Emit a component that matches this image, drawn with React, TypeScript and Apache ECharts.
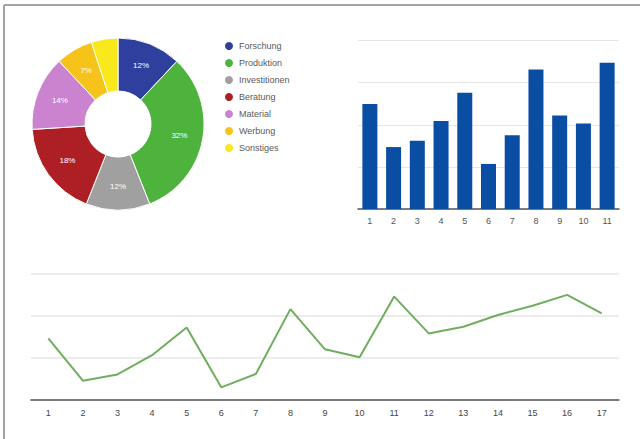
import React, { useEffect, useRef } from "react";
import * as echarts from "echarts";

const pieNames = ["Forschung", "Produktion", "Investitionen", "Beratung", "Material", "Werbung", "Sonstiges"];
const pieValues = [12, 32, 12, 18, 14, 7, 5];
const pieColors = ["#2e3f9e", "#4db33d", "#a0a0a0", "#ad1f25", "#cb82cf", "#f5c31a", "#f9e81c"];

const barCategories = ["1", "2", "3", "4", "5", "6", "7", "8", "9", "10", "11"];
const barValues = [2.49, 1.47, 1.62, 2.09, 2.76, 1.07, 1.75, 3.31, 2.22, 2.03, 3.47];

const lineCategories = ["1", "2", "3", "4", "5", "6", "7", "8", "9", "10", "11", "12", "13", "14", "15", "16", "17"];
const lineValues = [1.46, 0.45, 0.6, 1.06, 1.72, 0.29, 0.61, 2.16, 1.2, 1.01, 2.46, 1.58, 1.74, 2.02, 2.24, 2.5, 2.06];

const FONT = "'Liberation Sans', Arial, sans-serif";

export default function App() {
  const ref = useRef<HTMLDivElement>(null);
  useEffect(() => {
    if (!ref.current) return;
    const chart = echarts.init(ref.current, undefined, { renderer: "svg" });
    chart.setOption({
      animation: false,
      backgroundColor: "#ffffff",
      textStyle: { fontFamily: FONT },
      graphic: [
        { type: "line", shape: { x1: 4, y1: 5, x2: 640, y2: 5 }, style: { stroke: "#a3a3a3", lineWidth: 2 } },
        { type: "line", shape: { x1: 4, y1: 5, x2: 4, y2: 439 }, style: { stroke: "#a3a3a3", lineWidth: 2 } },
      ],
      legend: {
        orient: "vertical",
        left: 218,
        top: 35,
        icon: "circle",
        itemWidth: 10,
        itemHeight: 10,
        itemGap: 5,
        data: pieNames,
        textStyle: { fontSize: 9, color: "#5a5a5a", fontFamily: FONT, lineHeight: 12 },
      },
      grid: [
        { left: 358, right: 21, top: 40.5, bottom: 230 },
        { left: 31, right: 21, top: 274, bottom: 39.5 },
      ],
      xAxis: [
        {
          type: "category",
          gridIndex: 0,
          data: barCategories,
          axisLine: { lineStyle: { color: "#555555", width: 1.5 } },
          axisTick: { show: false },
          axisLabel: { fontSize: 9, color: "#555555", margin: 7 },
        },
        {
          type: "category",
          gridIndex: 1,
          data: lineCategories,
          axisLine: { lineStyle: { color: "#555555", width: 1.5 } },
          axisTick: { show: false },
          axisLabel: { fontSize: 9, color: "#444444", margin: 9 },
        },
      ],
      yAxis: [
        {
          type: "value",
          gridIndex: 0,
          min: 0,
          max: 4,
          interval: 1,
          axisLabel: { show: false },
          axisLine: { show: false },
          axisTick: { show: false },
          splitLine: { lineStyle: { color: "#e6e6e6", width: 1 } },
        },
        {
          type: "value",
          gridIndex: 1,
          min: 0,
          max: 3,
          interval: 1,
          axisLabel: { show: false },
          axisLine: { show: false },
          axisTick: { show: false },
          splitLine: { lineStyle: { color: "#e6e6e6", width: 1.5 } },
        },
      ],
      series: [
        {
          type: "pie",
          center: [118, 124],
          radius: [33, 86],
          startAngle: 90,
          clockwise: true,
          avoidLabelOverlap: false,
          itemStyle: { borderColor: "#ffffff", borderWidth: 1 },
          label: {
            show: true,
            position: "inside",
            color: "#ffffff",
            fontSize: 8,
            formatter: (p: any) => (p.value >= 7 ? p.value + "%" : ""),
          },
          labelLine: { show: false },
          data: pieNames.map((n, i) => ({ name: n, value: pieValues[i], itemStyle: { color: pieColors[i] } })),
        },
        {
          type: "bar",
          xAxisIndex: 0,
          yAxisIndex: 0,
          data: barValues,
          barWidth: 15,
          itemStyle: { color: "#0a4ea3" },
        },
        {
          type: "line",
          xAxisIndex: 1,
          yAxisIndex: 1,
          data: lineValues,
          symbol: "none",
          lineStyle: { color: "#6fae5f", width: 2 },
        },
      ],
    });
    return () => chart.dispose();
  }, []);
  return (
    <div
      ref={ref}
      style={{ position: "absolute", left: 0, top: 0, width: 640, height: 439 }}
    />
  );
}
